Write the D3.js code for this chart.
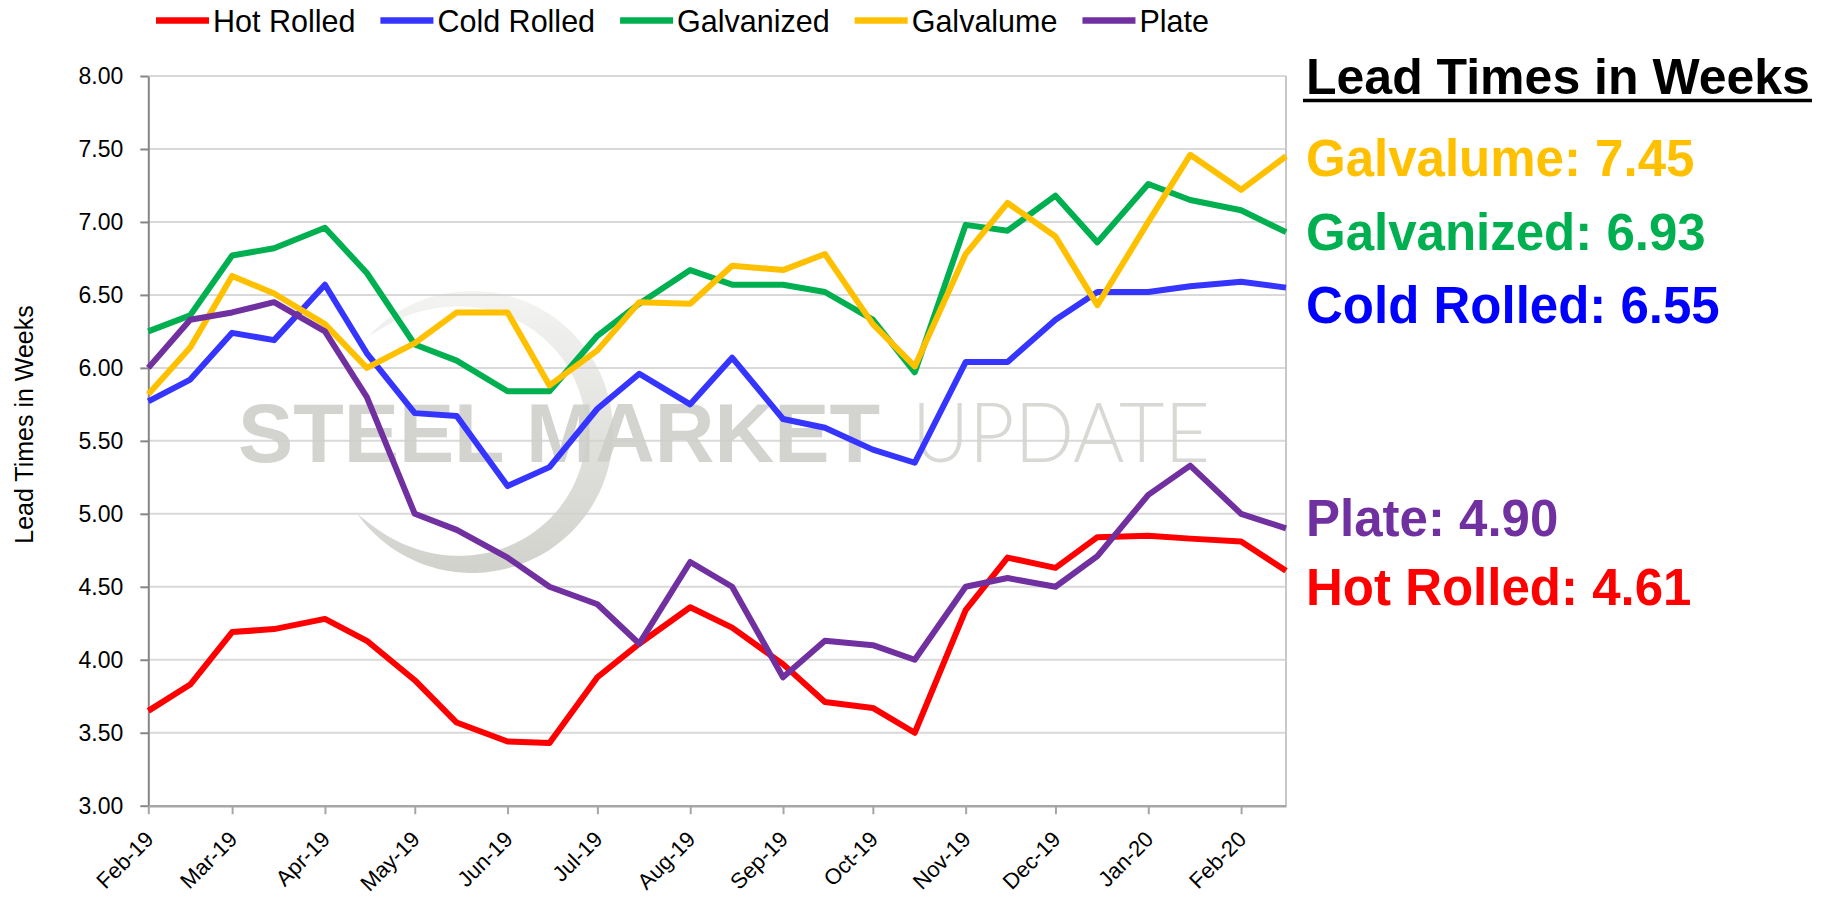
<!DOCTYPE html>
<html>
<head>
<meta charset="utf-8">
<script src="https://cdn.jsdelivr.net/npm/d3@7"></script>
<style>
  html, body { margin: 0; padding: 0; background: #ffffff; }
  svg { display: block; }
  text { font-family: "Liberation Sans", Arial, sans-serif; }
</style>
</head>
<body>
<svg id="chart" width="1824" height="898"></svg>
<script>
// Survey dates (twice a month) and lead times in weeks for each product
const surveyDates = [
  "2019-02-01","2019-02-15","2019-03-01","2019-03-15","2019-04-01","2019-04-15",
  "2019-05-01","2019-05-15","2019-06-01","2019-06-15","2019-07-01","2019-07-15",
  "2019-08-01","2019-08-15","2019-09-01","2019-09-15","2019-10-01","2019-10-15",
  "2019-11-01","2019-11-15","2019-12-01","2019-12-15","2020-01-01","2020-01-15",
  "2020-02-01","2020-02-16"
];
const hotRolled  = [3.65,3.83,4.19,4.21,4.28,4.13,3.86,3.57,3.44,3.43,3.88,4.11,4.36,4.22,3.97,3.71,3.67,3.50,4.34,4.70,4.63,4.84,4.85,4.83,4.81,4.61];
const coldRolled = [5.77,5.92,6.24,6.19,6.57,6.10,5.69,5.67,5.19,5.32,5.72,5.96,5.75,6.07,5.65,5.59,5.44,5.35,6.04,6.04,6.33,6.52,6.52,6.56,6.59,6.55];
const galvanized = [6.25,6.36,6.77,6.82,6.96,6.65,6.16,6.05,5.84,5.84,6.22,6.44,6.67,6.57,6.57,6.52,6.33,5.97,6.98,6.94,7.18,6.86,7.26,7.15,7.08,6.93];
const galvalume  = [5.82,6.14,6.63,6.51,6.30,6.00,6.17,6.38,6.38,5.88,6.12,6.45,6.44,6.70,6.67,6.78,6.30,6.01,6.78,7.13,6.90,6.43,7.00,7.46,7.22,7.45];
const plate      = [6.00,6.33,6.38,6.45,6.25,5.80,5.00,4.89,4.70,4.50,4.38,4.11,4.67,4.50,3.88,4.13,4.10,4.00,4.50,4.56,4.50,4.71,5.13,5.33,5.00,4.90];

const seriesNames = ["Hot Rolled", "Cold Rolled", "Galvanized", "Galvalume", "Plate"];
const seriesValues = [hotRolled, coldRolled, galvanized, galvalume, plate];
const yTicks = [3.00, 3.50, 4.00, 4.50, 5.00, 5.50, 6.00, 6.50, 7.00, 7.50, 8.00];
const yTitle = "Lead Times in Weeks";
const sideTitle = "Lead Times in Weeks";
const sideOrder = ["Galvalume", "Galvanized", "Cold Rolled", "Plate", "Hot Rolled"];

// ---- styling ----
const lineColor = {
  "Hot Rolled": "#ff0000", "Cold Rolled": "#3535ff", "Galvanized": "#00b050",
  "Galvalume": "#ffc000", "Plate": "#7030a0"
};
const textColor = {
  "Hot Rolled": "#ff0000", "Cold Rolled": "#0000ff", "Galvanized": "#00b050",
  "Galvalume": "#ffc000", "Plate": "#7030a0"
};
const sideBaseline = {
  "Galvalume": 176, "Galvanized": 250, "Cold Rolled": 323, "Plate": 535.5, "Hot Rolled": 604.5
};

const svg = d3.select("#chart");
const plot = { left: 148.3, right: 1286, top: 76, bottom: 805.7 };

const parse = d3.timeParse("%Y-%m-%d");
const dates = surveyDates.map(parse);
const series = seriesNames.map((name, i) => ({
  name,
  points: seriesValues[i].map((v, j) => ({ date: dates[j], v }))
}));

const x = d3.scaleTime().domain(d3.extent(dates)).range([plot.left, plot.right]);
const y = d3.scaleLinear().domain([3, 8]).range([plot.bottom, plot.top]);

// ---- horizontal gridlines ----
svg.append("g")
  .selectAll("line")
  .data(yTicks.filter(t => t > 3))
  .join("line")
  .attr("x1", plot.left).attr("x2", plot.right)
  .attr("y1", d => y(d)).attr("y2", d => y(d))
  .attr("stroke", "#d9d9d9").attr("stroke-width", 2);

// right border of the plot area
svg.append("line")
  .attr("x1", plot.right).attr("x2", plot.right)
  .attr("y1", plot.top).attr("y2", plot.bottom)
  .attr("stroke", "#c8c8c8").attr("stroke-width", 2);

// ---- watermark: crescent swoosh + wordmark ----
const defs = svg.append("defs");
const fade = defs.append("linearGradient").attr("id", "swooshFade")
  .attr("x1", 0).attr("y1", 0).attr("x2", 0).attr("y2", 1);
fade.append("stop").attr("offset", "0%").attr("stop-color", "#d2d2cd").attr("stop-opacity", 0.25);
fade.append("stop").attr("offset", "55%").attr("stop-color", "#d2d2cd").attr("stop-opacity", 0.7);
fade.append("stop").attr("offset", "100%").attr("stop-color", "#cfcfca").attr("stop-opacity", 0.95);

const sw = { cx: 472, cy: 432, r: 141, a0: -137, a1: 144.5, wMax: 27 };
const steps = d3.range(0, 1.0001, 1 / 90);
const outerPts = steps.map(u => {
  const a = (sw.a0 + (sw.a1 - sw.a0) * u) * Math.PI / 180;
  return [sw.cx + sw.r * Math.cos(a), sw.cy + sw.r * Math.sin(a)];
});
const innerPts = steps.slice().reverse().map(u => {
  const a = (sw.a0 + (sw.a1 - sw.a0) * u) * Math.PI / 180;
  const w = sw.wMax * Math.pow(Math.sin(Math.PI * u), 0.75);
  const rr = sw.r - w;
  return [sw.cx + rr * Math.cos(a), sw.cy + rr * Math.sin(a)];
});
svg.append("path")
  .attr("d", d3.line().curve(d3.curveLinear)(outerPts.concat(innerPts)) + "Z")
  .attr("fill", "url(#swooshFade)");

const mark = svg.append("g").attr("opacity", 0.9);
mark.append("text")
  .attr("x", 238).attr("y", 461.7)
  .attr("font-size", 84).attr("font-weight", "bold")
  .attr("textLength", 642).attr("lengthAdjust", "spacingAndGlyphs")
  .attr("fill", "#cfcfca")
  .text("STEEL MARKET");
mark.append("text")
  .attr("x", 912).attr("y", 461.7)
  .attr("font-size", 83).attr("font-weight", 300)
  .style("font-family", "Lato, 'Open Sans', 'Liberation Sans', sans-serif")
  .attr("textLength", 298).attr("lengthAdjust", "spacingAndGlyphs")
  .attr("fill", "#d4d4d0")
  .text("UPDATE");

// ---- axes ----
const yAxis = svg.append("g")
  .attr("transform", `translate(${plot.left},0)`)
  .call(d3.axisLeft(y).tickValues(yTicks).tickFormat(d3.format(".2f"))
    .tickSize(8).tickSizeOuter(0).tickPadding(17));
yAxis.select(".domain").attr("stroke", "#868686").attr("stroke-width", 2);
yAxis.selectAll(".tick line").attr("stroke", "#868686").attr("stroke-width", 2);
yAxis.selectAll(".tick text")
  .attr("font-size", 23).attr("fill", "#000")
  .style("font-family", "'Liberation Sans', Arial, sans-serif");

const xAxis = svg.append("g")
  .attr("transform", `translate(0,${plot.bottom})`)
  .call(d3.axisBottom(x).ticks(d3.timeMonth.every(1)).tickFormat(d3.timeFormat("%b-%y"))
    .tickSize(8.5).tickSizeOuter(0));
xAxis.select(".domain").attr("stroke", "#a6a6a6").attr("stroke-width", 2.5);
xAxis.selectAll(".tick line").attr("stroke", "#a6a6a6").attr("stroke-width", 2);
xAxis.selectAll(".tick text")
  .attr("x", 0).attr("y", 0).attr("dy", 0)
  .attr("transform", "translate(6,35) rotate(-45)")
  .attr("text-anchor", "end")
  .attr("font-size", 22).attr("fill", "#000")
  .style("font-family", "'Liberation Sans', Arial, sans-serif");

// y-axis title
svg.append("text")
  .attr("transform", `translate(33,424.5) rotate(-90)`)
  .attr("text-anchor", "middle")
  .attr("font-size", 25).attr("fill", "#000")
  .text(yTitle);

// ---- series lines ----
const line = d3.line().x(d => x(d.date)).y(d => y(d.v));
svg.append("g")
  .selectAll("path")
  .data(series)
  .join("path")
  .attr("d", d => line(d.points))
  .attr("fill", "none")
  .attr("stroke", d => lineColor[d.name])
  .attr("stroke-width", 6)
  .attr("stroke-linejoin", "round");

// ---- legend ----
const legend = svg.append("g");
let lx = 156;
seriesNames.forEach(name => {
  legend.append("line")
    .attr("x1", lx).attr("x2", lx + 53)
    .attr("y1", 20.5).attr("y2", 20.5)
    .attr("stroke", lineColor[name]).attr("stroke-width", 6.5);
  const t = legend.append("text")
    .attr("x", lx + 57).attr("y", 31.5)
    .attr("font-size", 30.5).attr("fill", "#000")
    .text(name);
  lx += 57 + t.node().getComputedTextLength() + 25;
});

// ---- latest readings panel ----
const side = svg.append("g");
const title = side.append("text")
  .attr("x", 1306).attr("y", 93.5)
  .attr("font-size", 50).attr("font-weight", "bold").attr("fill", "#000")
  .text(sideTitle);
const tw = title.node().getComputedTextLength();
side.append("line")
  .attr("x1", 1303).attr("x2", 1306 + tw + 2)
  .attr("y1", 100.5).attr("y2", 100.5)
  .attr("stroke", "#000").attr("stroke-width", 3.5);

sideOrder.forEach(name => {
  const s = series.find(d => d.name === name);
  const last = s.points[s.points.length - 1].v;
  side.append("text")
    .attr("x", 1306).attr("y", sideBaseline[name])
    .attr("font-size", 51).attr("font-weight", "bold")
    .attr("fill", textColor[name])
    .text(`${name}: ${last.toFixed(2)}`);
});
</script>
</body>
</html>
